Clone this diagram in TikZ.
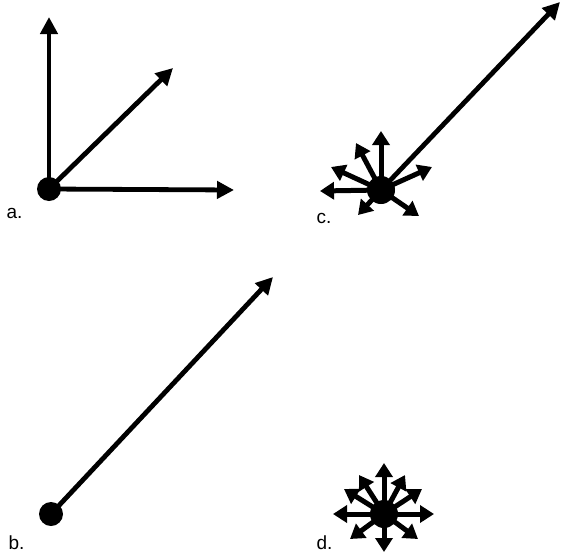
\documentclass[tikz,border=0pt]{standalone}
\usepackage{fontspec}
\setmainfont{Liberation Sans}
\usetikzlibrary{arrows.meta}

\begin{document}
\begin{tikzpicture}[x=1pt,y=-1pt,
  dot/.style={circle,fill=black,inner sep=0pt,minimum size=24pt},
  vector/.style={draw=black,line width=4.8pt,-{Triangle[length=17pt,width=17pt]}},
  spray/.style={draw=black,line width=5pt,-{Triangle[length=14pt,width=17pt]}},
  tag/.style={font=\fontsize{19}{19}\selectfont,anchor=base west}
]
\useasboundingbox (0,0) rectangle (562,552);

% a. three separate vectors
\node[dot] (dotA) at (49,189) {};
\coordinate (upA) at (49,17);
\coordinate (rightA) at (234,190);
\coordinate (diagA) at (173,68);
\draw[vector] (dotA.center) -- (upA);
\draw[vector] (dotA.center) -- (rightA);
\draw[vector] (dotA.center) -- (diagA);
\node[tag] (labA) at (3,218) {a.};

% b. single resultant
\node[dot] (dotB) at (51,514) {};
\coordinate (tipB) at (273,277);
\draw[vector] (dotB.center) -- (tipB);
\node[tag] (labB) at (5,549) {b.};

% c. one strong vector among weak ones
\node[dot,minimum size=28pt] (dotC) at (381,190) {};
\coordinate (longC) at (560,2);
\coordinate (c1) at (381,131);
\coordinate (c2) at (356,143);
\coordinate (c3) at (331,167);
\coordinate (c4) at (320,191);
\coordinate (c5) at (358,215);
\coordinate (c6) at (419,216);
\coordinate (c7) at (432,167);
\draw[vector] (dotC.center) -- (longC);
\draw[spray] (dotC.center) -- (c1);
\draw[spray] (dotC.center) -- (c2);
\draw[spray] (dotC.center) -- (c3);
\draw[spray] (dotC.center) -- (c4);
\draw[spray] (dotC.center) -- (c5);
\draw[spray] (dotC.center) -- (c6);
\draw[spray] (dotC.center) -- (c7);
\node[tag] (labC) at (313,223) {c.};

% d. weak vectors cancelling out
\node[dot,minimum size=28pt] (dotD) at (384,514) {};
\coordinate (d1) at (384,463);
\coordinate (d2) at (359,475);
\coordinate (d3) at (344,489);
\coordinate (d4) at (333,514);
\coordinate (d5) at (350,539);
\coordinate (d6) at (384,552);
\coordinate (d7) at (418,539);
\coordinate (d8) at (434,514);
\coordinate (d9) at (422,489);
\coordinate (d10) at (405,475);
\draw[spray] (dotD.center) -- (d1);
\draw[spray] (dotD.center) -- (d2);
\draw[spray] (dotD.center) -- (d3);
\draw[spray] (dotD.center) -- (d4);
\draw[spray] (dotD.center) -- (d5);
\draw[spray] (dotD.center) -- (d6);
\draw[spray] (dotD.center) -- (d7);
\draw[spray] (dotD.center) -- (d8);
\draw[spray] (dotD.center) -- (d9);
\draw[spray] (dotD.center) -- (d10);
\node[tag] (labD) at (313,549) {d.};
\end{tikzpicture}
\end{document}
